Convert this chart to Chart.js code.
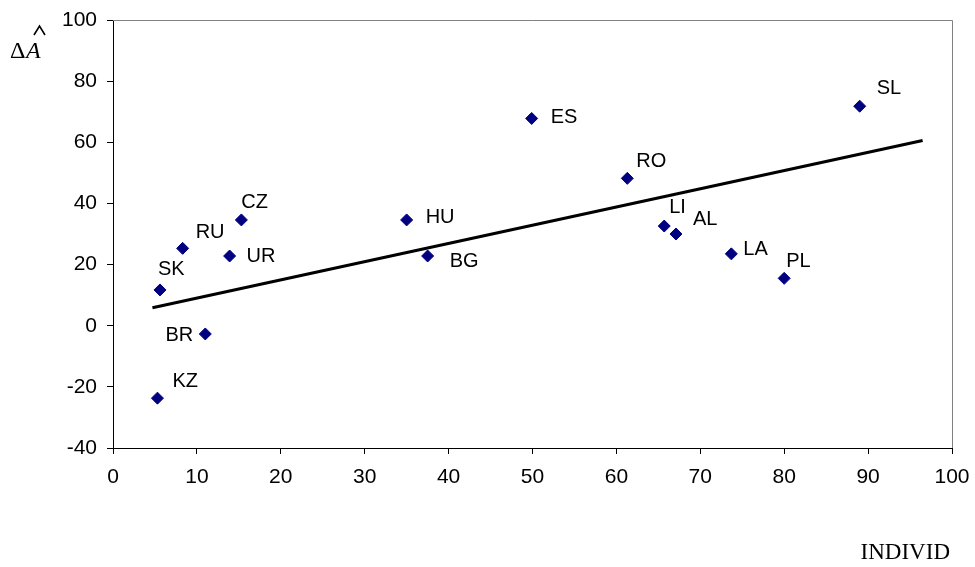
<!DOCTYPE html>
<html>
<head>
<meta charset="utf-8">
<script src="https://cdn.jsdelivr.net/npm/chart.js@4"></script>
<style>
  html, body { margin: 0; padding: 0; background: #ffffff; }
  #wrap { width: 975px; height: 567px; position: relative; }
</style>
</head>
<body>
<div id="wrap"><canvas id="chart"></canvas></div>
<script>
// Countries and their values
const countries = ['SK', 'KZ', 'RU', 'BR', 'UR', 'CZ', 'HU', 'BG', 'ES', 'RO', 'LI', 'AL', 'LA', 'PL', 'SL'];
const individ   = [5.6, 5.3, 8.3, 11.0, 13.9, 15.3, 35.0, 37.5, 49.9, 61.3, 65.7, 67.1, 73.7, 80.0, 89.0];
const deltaA    = [11.7, -23.7, 25.3, -2.7, 22.8, 34.6, 34.6, 22.8, 67.8, 48.2, 32.6, 30.0, 23.5, 15.5, 71.8];

// Linear trend line end points
const trendX = [4.7, 96.5];
const trendY = [5.9, 60.6];

// Axis ranges and tick steps
const xTicks = { min: 0, max: 100, step: 10 };
const yTicks = { min: -40, max: 100, step: 20 };

// Label placement relative to each marker: [dx, dy, align]
const labelOffsets = {
  SK: [-2, -20, 'left'],  KZ: [15, -17, 'left'], RU: [13, -16, 'left'],
  BR: [-12, 2, 'right'],  UR: [17, 0, 'left'],   CZ: [0, -17, 'left'],
  HU: [19, -2, 'left'],   BG: [22, 5, 'left'],   ES: [19, -1, 'left'],
  RO: [9, -17, 'left'],   LI: [5, -19, 'left'],  AL: [17, -15, 'left'],
  LA: [12, -4, 'left'],   PL: [2, -17, 'left'],  SL: [17, -18, 'left']
};

const points = countries.map((c, i) => ({ x: individ[i], y: deltaA[i], name: c }));
const trend = trendX.map((x, i) => ({ x: x, y: trendY[i] }));

const sansFont = '"Liberation Sans", Arial, sans-serif';
const serifFont = '"Liberation Serif", "Times New Roman", serif';

// Frame around the plot area (grey on top/right like the classic spreadsheet look)
const framePlugin = {
  id: 'frame',
  beforeDatasetsDraw(chart) {
    const { ctx, chartArea: a } = chart;
    ctx.save();
    ctx.strokeStyle = '#808080';
    ctx.lineWidth = 1;
    ctx.beginPath();
    ctx.moveTo(a.left, a.top + 0.5);
    ctx.lineTo(a.right + 0.5, a.top + 0.5);
    ctx.lineTo(a.right + 0.5, a.bottom);
    ctx.stroke();
    ctx.restore();
  }
};

// Country codes next to the markers
const labelPlugin = {
  id: 'pointLabels',
  afterDatasetsDraw(chart) {
    const { ctx } = chart;
    const meta = chart.getDatasetMeta(1);
    ctx.save();
    ctx.font = '20px ' + sansFont;
    ctx.fillStyle = '#000000';
    ctx.textBaseline = 'middle';
    meta.data.forEach((el, i) => {
      const name = countries[i];
      const off = labelOffsets[name];
      ctx.textAlign = off[2];
      ctx.fillText(name, el.x + off[0], el.y + off[1]);
    });
    ctx.restore();
  }
};

// Axis titles: ΔÂ on the y side, INDIVID under the x axis
const titlePlugin = {
  id: 'axisTitles',
  afterDraw(chart) {
    const { ctx, chartArea: a } = chart;
    ctx.save();
    ctx.fillStyle = '#000000';
    ctx.textBaseline = 'alphabetic';
    ctx.textAlign = 'left';
    ctx.font = '24px ' + serifFont;
    ctx.fillText('\u0394', 10, 58);
    ctx.font = 'italic 24px ' + serifFont;
    ctx.fillText('A', 26, 58);
    // hat above the A
    ctx.strokeStyle = '#000000';
    ctx.lineWidth = 1.6;
    ctx.beginPath();
    ctx.moveTo(34, 35);
    ctx.lineTo(39.5, 26);
    ctx.lineTo(45, 35);
    ctx.stroke();

    ctx.font = '23px ' + serifFont;
    ctx.textAlign = 'right';
    ctx.fillText('INDIVID', a.right - 2, 559);
    ctx.restore();
  }
};

new Chart(document.getElementById('chart'), {
  data: {
    datasets: [
      {
        type: 'line',
        data: trend,
        borderColor: '#000000',
        borderWidth: 3,
        pointRadius: 0,
        fill: false,
        tension: 0,
        order: 2
      },
      {
        type: 'scatter',
        data: points,
        pointStyle: 'rectRot',
        pointRadius: 6,
        pointHoverRadius: 6,
        backgroundColor: '#000080',
        borderColor: '#000080',
        borderWidth: 1,
        order: 1
      }
    ]
  },
  options: {
    responsive: true,
    maintainAspectRatio: false,
    animation: false,
    events: [],
    layout: { padding: { top: 20, right: 23, left: 0, bottom: 0 } },
    plugins: {
      legend: { display: false },
      tooltip: { enabled: false },
      title: { display: false }
    },
    scales: {
      x: {
        type: 'linear',
        min: xTicks.min,
        max: xTicks.max,
        border: { display: true, color: '#000000', width: 1 },
        grid: { display: true, drawOnChartArea: false, drawTicks: true, tickLength: 6, color: '#000000' },
        ticks: {
          stepSize: xTicks.step,
          color: '#000000',
          font: { family: sansFont, size: 21 },
          padding: 11,
          maxRotation: 0
        },
        afterFit(scale) {
          scale.height = 119;
          scale.paddingLeft = 0;
          scale.paddingRight = 0;
        }
      },
      y: {
        type: 'linear',
        min: yTicks.min,
        max: yTicks.max,
        border: { display: true, color: '#000000', width: 1 },
        grid: { display: true, drawOnChartArea: false, drawTicks: true, tickLength: 6, color: '#000000' },
        ticks: {
          stepSize: yTicks.step,
          color: '#000000',
          font: { family: sansFont, size: 21 },
          padding: 10
        },
        afterFit(scale) {
          scale.width = 113;
          scale.paddingTop = 0;
          scale.paddingBottom = 0;
        }
      }
    }
  },
  plugins: [framePlugin, labelPlugin, titlePlugin]
});
</script>
</body>
</html>
